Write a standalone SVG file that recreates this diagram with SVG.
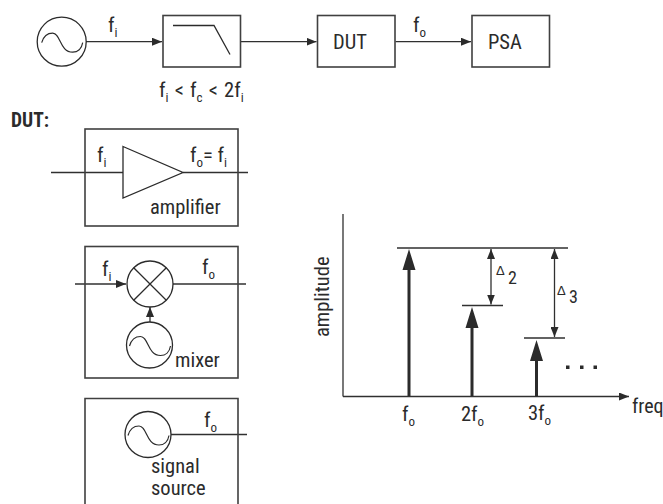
<svg xmlns="http://www.w3.org/2000/svg" width="663" height="504" viewBox="0 0 663 504">
<style>
text{font-family:"Liberation Sans Narrow","Roboto Condensed","Liberation Sans",sans-serif;font-size:20.500px;fill:#2b2b2b}
.s{font-size:13px}
.b{fill:#fff;stroke:#404040;stroke-width:1.6}
.l{fill:none;stroke:#303030;stroke-width:1.3}
.n{fill:none;stroke:#2b2b2b;stroke-width:1.3}
.t{fill:none;stroke:#2b2b2b;stroke-width:3}
.h{fill:#2b2b2b}
</style>
<defs>
<marker id="a" markerUnits="userSpaceOnUse" markerWidth="11" markerHeight="8" refX="10" refY="4" orient="auto-start-reverse"><path d="M0 0L10 4L0 8Z" fill="#2b2b2b"/></marker>
<path id="w" d="M-20 1C-18 -6 -14 -8.500 -9 -8.500C-1 -8.500 -2 10.500 11 10.500C16 10.500 20 7 21 1" fill="none" stroke="#2b2b2b" stroke-width="1.200"/>
</defs>
<g id="connectors">
<path class="l" marker-end="url(#a)" d="M86 41.700H162"/>
<path class="l" marker-end="url(#a)" d="M241 41.700H316.500"/>
<path class="l" marker-end="url(#a)" d="M395.500 41.700H471"/>
<path class="l" d="M51 172.500H123"/>
<path class="l" d="M183 172.500H248"/>
<path class="l" marker-end="url(#a)" d="M75 284H126"/>
<path class="l" d="M173 284H246"/>
<path class="l" marker-end="url(#a)" d="M150 322V307"/>
<path class="l" d="M171 434.500H247"/>
</g>
<g id="source"><circle class="n" cx="61.700" cy="41.700" r="24.500"/><use href="#w" x="61.700" y="41.700"/></g>
<g id="filter"><rect class="b" x="163" y="15.500" width="77.500" height="51.500"/><path class="n" d="M173 25.500H214L230 54.500"/></g>
<g id="dut"><rect class="b" x="317.500" y="15.500" width="77.500" height="51.500"/><text x="333" y="49">DUT</text></g>
<g id="psa"><rect class="b" x="472" y="15.500" width="77.500" height="51.500"/><text x="488" y="49">PSA</text></g>
<g id="top-labels">
<text x="108" y="32">f<tspan class="s" dy="5">i</tspan></text>
<text x="413" y="32">f<tspan class="s" dy="5">o</tspan></text>
<text x="159" y="97" word-spacing="1.500">f<tspan class="s" dy="5">i</tspan><tspan dy="-5"> &lt; f</tspan><tspan class="s" dy="5">c</tspan><tspan dy="-5"> &lt; 2f</tspan><tspan class="s" dy="5">i</tspan></text>
<text x="11" y="127" style="font-weight:700;font-size:19.500px">DUT:</text>
</g>
<g id="amplifier">
<rect class="b" style="fill:none" x="85" y="129" width="153" height="97"/>
<path class="n" d="M123 146.500L183 172.500L123 198Z"/>
<text x="97" y="162">f<tspan class="s" dy="5">i</tspan></text>
<text x="190" y="162">f<tspan class="s" dy="5">o</tspan><tspan dy="-5">= f</tspan><tspan class="s" dy="5">i</tspan></text>
<text x="150" y="214">amplifier</text>
</g>
<g id="mixer">
<rect class="b" style="fill:none" x="85" y="246.500" width="153" height="131.500"/>
<circle class="n" cx="150" cy="284" r="23"/>
<path class="n" d="M133.700 267.700L166.300 300.300M166.300 267.700L133.700 300.300"/>
<circle class="n" cx="149.500" cy="345" r="23"/><use href="#w" x="149.500" y="345"/>
<text x="102" y="276">f<tspan class="s" dy="5">i</tspan></text>
<text x="202" y="274">f<tspan class="s" dy="5">o</tspan></text>
<text x="175" y="367">mixer</text>
</g>
<g id="signal-source">
<path class="b" style="fill:none" d="M85 504V398.500H238V504"/>
<circle class="n" cx="148" cy="434.500" r="23"/><use href="#w" x="148" y="434.500"/>
<text x="204" y="427">f<tspan class="s" dy="5">o</tspan></text>
<text><tspan x="151" y="473">signal</tspan><tspan x="151" y="495">source</tspan></text>
</g>
<g id="chart">
<path class="l" d="M343 214V396.500"/>
<path class="l" marker-end="url(#a)" d="M343 396.500H629"/>
<path class="l" d="M397 248H568M462 305.500H503M524 338H565"/>
<path class="t" d="M409 268V396M472 326V396M536.500 359V396"/>
<path class="h" d="M409 249L415.500 270H402.500ZM472 307L478.500 328H465.500ZM536.500 340L543 361H530Z"/>
<path class="l" marker-start="url(#a)" marker-end="url(#a)" d="M491 249V304.500"/>
<path class="l" marker-start="url(#a)" marker-end="url(#a)" d="M554.500 249V337"/>
<path class="h" d="M566 365.500h3.500v3.500h-3.500zM580 365.500h3.500v3.500h-3.500zM593.500 365.500h3.500v3.500h-3.500z"/>
<text transform="translate(329 337) rotate(-90)">amplitude</text>
<text x="496" y="275" style="font-size:13px;font-family:'Liberation Sans',sans-serif">Δ</text>
<text x="508" y="284" style="font-size:18px">2</text>
<text x="557" y="295" style="font-size:13px;font-family:'Liberation Sans',sans-serif">Δ</text>
<text x="569" y="303" style="font-size:18px">3</text>
<text x="402" y="421">f<tspan class="s" dy="5">o</tspan></text>
<text x="461" y="421">2f<tspan class="s" dy="5">o</tspan></text>
<text x="528" y="420">3f<tspan class="s" dy="5">o</tspan></text>
<text x="632" y="413" style="font-size:20px">freq</text>
</g>
</svg>
